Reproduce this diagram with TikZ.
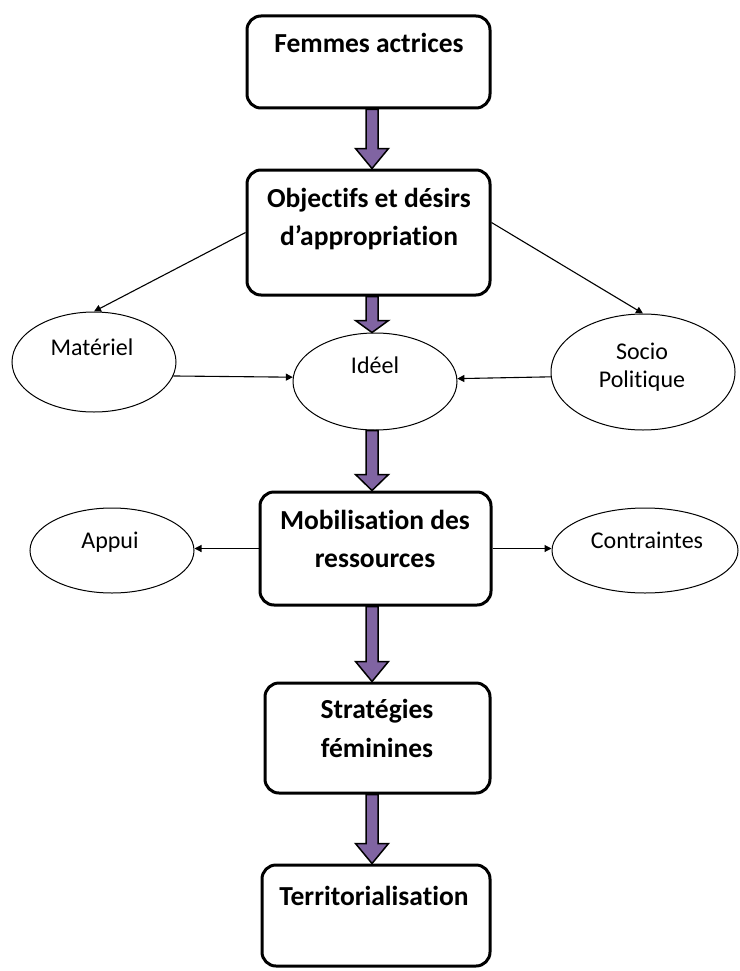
\documentclass[tikz,border=0pt]{standalone}
\usepackage{fontspec}
\setmainfont{Carlito}[Ligatures=NoCommon]
\usetikzlibrary{shapes.geometric,arrows.meta,calc}
\definecolor{arrowpurple}{RGB}{128,100,162}
\newcommand\purplearrow[3]{%
  \draw[fatarrow] let \p1=(ax |- #1), \p2=(ax |- #2) in
    (\x1-6pt,\y1) -- (\x1-6pt,\y2+#3) -- (\x1-16.5pt,\y2+#3) -- (\x1,\y2)
    -- (\x1+16.5pt,\y2+#3) -- (\x1+6pt,\y2+#3) -- (\x1+6pt,\y1) -- cycle;}
\begin{document}
\begin{tikzpicture}[x=1pt,y=-1pt,
  box/.style={draw, line width=3pt, rounded corners=14pt, fill=white, inner sep=0pt},
  oval/.style={draw, line width=1pt, ellipse, fill=white, inner sep=0pt},
  btxt/.style={font=\fontsize{27.5}{33}\selectfont\bfseries, anchor=base, inner sep=0pt},
  rtxt/.style={font=\fontsize{24}{29}\selectfont, anchor=base, inner sep=0pt},
  link/.style={line width=1.1pt, -{Triangle[length=7pt,width=7pt]}},
  fatarrow/.style={draw=black, line width=1.5pt, fill=arrowpurple, line join=miter}]
\useasboundingbox (0,0) rectangle (739,971);
\coordinate (ax) at (372,0);

% boxes
\node[box, minimum width=243pt, minimum height=92pt]  (b1) at (368.5,62) {};
\node[box, minimum width=243pt, minimum height=125pt] (b2) at (368.5,232.5) {};
\node[box, minimum width=231pt, minimum height=113pt] (b3) at (375.5,548.5) {};
\node[box, minimum width=225pt, minimum height=110pt] (b4) at (377.5,738) {};
\node[box, minimum width=228pt, minimum height=101pt] (b5) at (376,915.5) {};

% ellipses
\node[oval, minimum width=164pt, minimum height=100pt] (mat) at (94,362) {};
\node[oval, minimum width=164pt, minimum height=97pt]  (idl) at (375,381.5) {};
\node[oval, minimum width=184pt, minimum height=116pt] (soc) at (643,372) {};
\node[oval, minimum width=164pt, minimum height=85pt]  (app) at (112,550.5) {};
\node[oval, minimum width=186pt, minimum height=85pt]  (con) at (645,550.5) {};

% box texts
\node[btxt] (t1)  at (369,53)  {Femmes actrices};
\node[btxt] (t2a) at (369,207) {Objectifs et désirs};
\node[btxt] (t2b) at (369,245) {d’appropriation};
\node[btxt] (t3a) at (375,529) {Mobilisation des};
\node[btxt] (t3b) at (375,567) {ressources};
\node[btxt] (t4a) at (377,718) {Stratégies};
\node[btxt] (t4b) at (377,757) {féminines};
\node[btxt] (t5)  at (374,905) {Territorialisation};

% ellipse texts
\node[rtxt] (e1)  at (92,355)  {Matériel};
\node[rtxt] (e2)  at (375,373) {Idéel};
\node[rtxt] (e3a) at (642,359) {Socio};
\node[rtxt] (e3b) at (642,387) {Politique};
\node[rtxt] (e4)  at (110,548) {Appui};
\node[rtxt] (e5)  at (647,548) {Contraintes};

% thin connectors
\draw[link] (b2.west) -- (mat.north);
\draw[link] ([yshift=10pt]b2.east) -- (soc.north);
\draw[link] (mat.-10.9) -- (idl.177.2);
\draw[link] (soc.183.1) -- (idl.2.8);
\draw[link] (b3.west) -- (b3.west -| app.east);
\draw[link] (b3.east) -- (b3.east -| con.west);

% purple arrows
\purplearrow{b1.south}{b2.north}{20pt}
\purplearrow{b2.south}{idl.north}{12pt}
\purplearrow{idl.south}{b3.north}{16pt}
\purplearrow{b3.south}{b4.north}{20pt}
\purplearrow{b4.south}{b5.north}{20pt}
\end{tikzpicture}
\end{document}
